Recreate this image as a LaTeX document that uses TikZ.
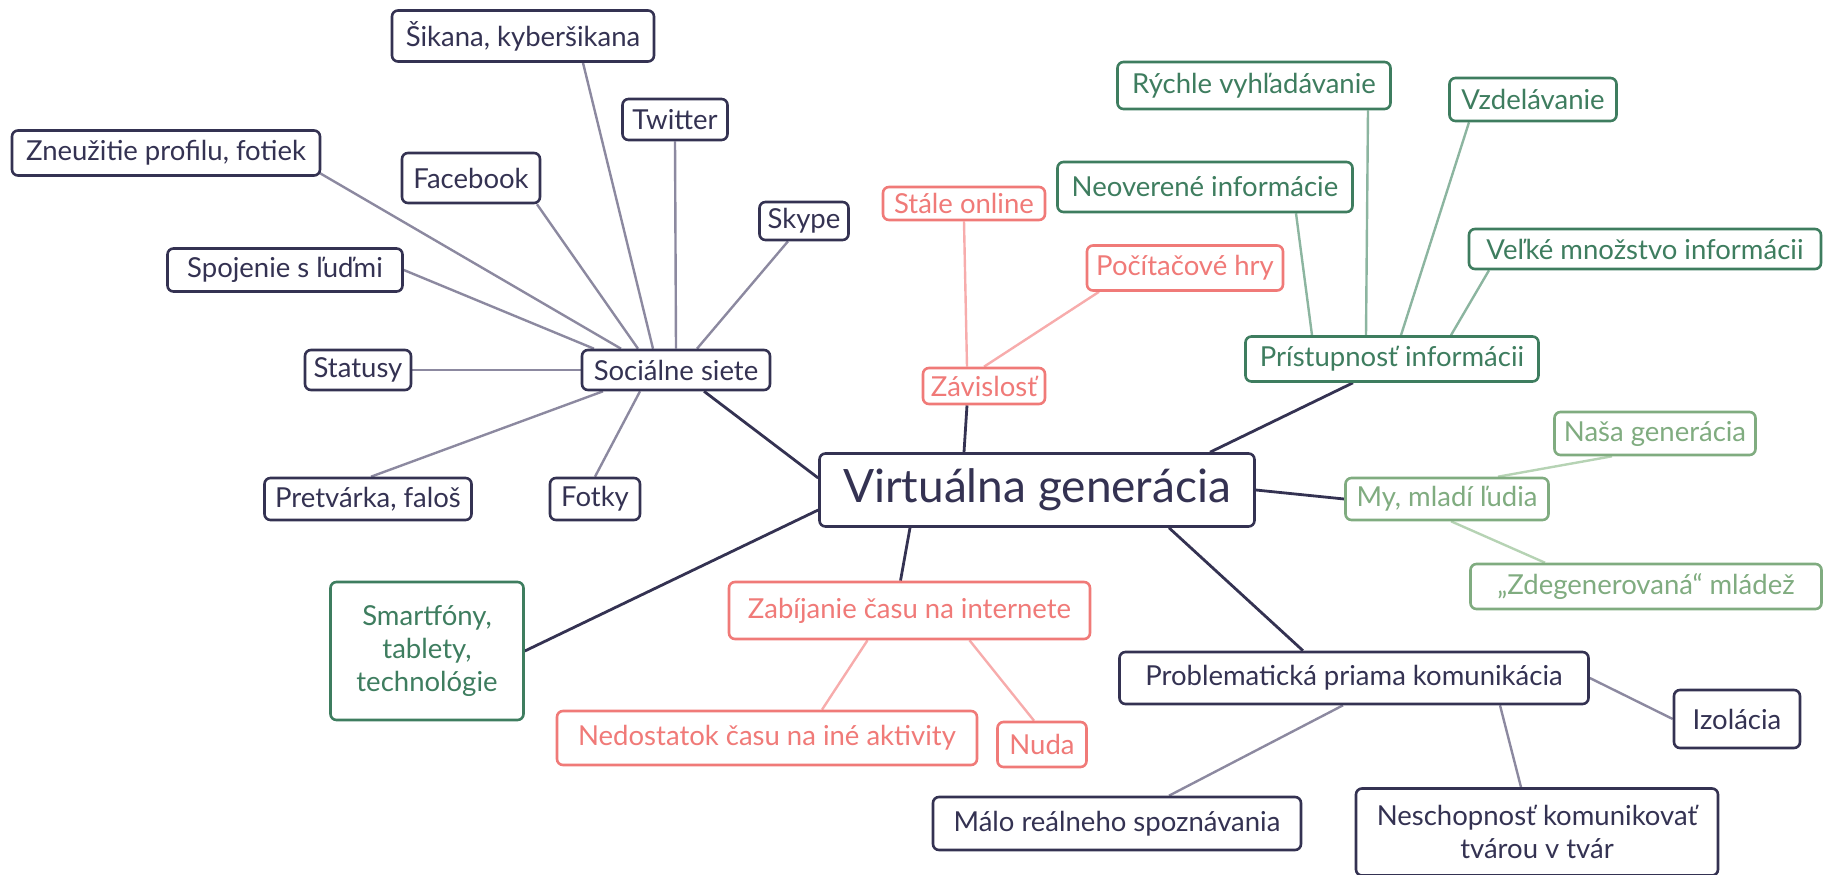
\documentclass[tikz,border=0pt]{standalone}
\usepackage{fontspec}
\setmainfont{Lato}
\usetikzlibrary{backgrounds}
\definecolor{navy}{RGB}{52,50,82}
\definecolor{navylight}{RGB}{140,137,160}
\definecolor{salmon}{RGB}{240,122,120}
\definecolor{salmonlight}{RGB}{247,172,172}
\definecolor{pine}{RGB}{62,125,95}
\definecolor{pinelight}{RGB}{140,181,160}
\definecolor{sage}{RGB}{128,172,128}
\definecolor{sagelight}{RGB}{182,211,180}

\begin{document}
\begin{tikzpicture}[x=1pt,y=-1pt,
	box/.style={draw,rounded corners=6pt,line width=2.6pt,fill=white,inner xsep=6pt,inner ysep=1pt,font=\fontsize{27.5}{33}\selectfont},
	navybox/.style={box,draw=navy,text=navy},
	salmonbox/.style={box,draw=salmon,text=salmon},
	pinebox/.style={box,draw=pine,text=pine},
	sagebox/.style={box,draw=sage,text=sage},
	main/.style={line width=2.8pt,draw=navy},
	twig/.style={line width=2.4pt}]
	\useasboundingbox (0,0) rectangle (1840,875);

	%centre
	\node[navybox,minimum width=435,minimum height=73,font=\fontsize{46}{52}\selectfont] (root) at (1037,490) {Virtuálna generácia};

	%social networks
	\node[navybox,minimum width=188,minimum height=40] (siete) at (676,370) {Sociálne siete};
	\node[navybox,minimum width=262,minimum height=51] (sikana) at (523,36) {Šikana, kyberšikana};
	\node[navybox,minimum width=105,minimum height=41] (twitter) at (675,119.5) {Twitter};
	\node[navybox,minimum width=308,minimum height=45] (zneuzitie) at (166,153) {Zneužitie profilu, fotiek};
	\node[navybox,minimum width=138,minimum height=50] (facebook) at (471,178) {Facebook};
	\node[navybox,minimum width=89,minimum height=38] (skype) at (804,221) {Skype};
	\node[navybox,minimum width=235,minimum height=43] (spojenie) at (285,270) {Spojenie s ľuďmi};
	\node[navybox,minimum width=106,minimum height=40] (statusy) at (358,370) {Statusy};
	\node[navybox,minimum width=207,minimum height=42] (pretvarka) at (368,499) {Pretvárka, faloš};
	\node[navybox,minimum width=90,minimum height=42] (fotky) at (595,499) {Fotky};

	%devices
	\node[pinebox,minimum width=193,minimum height=138,align=center] (smart) at (427,651) {Smartfóny,\\tablety,\\technológie};

	%time
	\node[salmonbox,minimum width=361,minimum height=57] (zabijanie) at (909.5,610.5) {Zabíjanie času na internete};
	\node[salmonbox,minimum width=420,minimum height=54] (nedostatok) at (767,738) {Nedostatok času na iné aktivity};
	\node[salmonbox,minimum width=89,minimum height=45] (nuda) at (1042,744.5) {Nuda};

	%addiction
	\node[salmonbox,minimum width=122,minimum height=36] (zavislost) at (984,386) {Závislosť};
	\node[salmonbox,minimum width=162,minimum height=33] (online) at (964,203.5) {Stále online};
	\node[salmonbox,minimum width=196,minimum height=45] (hry) at (1185,268) {Počítačové hry};

	%information
	\node[pinebox,minimum width=293,minimum height=45] (pristup) at (1392,359) {Prístupnosť informácii};
	\node[pinebox,minimum width=273,minimum height=47] (rychle) at (1254,85.5) {Rýchle vyhľadávanie};
	\node[pinebox,minimum width=167,minimum height=43] (vzdelavanie) at (1533,99.5) {Vzdelávanie};
	\node[pinebox,minimum width=295,minimum height=50] (neoverene) at (1205,187) {Neoverené informácie};
	\node[pinebox,minimum width=352,minimum height=40] (mnozstvo) at (1645,249) {Veľké množstvo informácii};

	%young people
	\node[sagebox,minimum width=203,minimum height=42] (mladi) at (1447,499) {My, mladí ľudia};
	\node[sagebox,minimum width=201,minimum height=43] (nasa) at (1655,433.5) {Naša generácia};
	\node[sagebox,minimum width=351,minimum height=45] (mladez) at (1646,586.5) {„Zdegenerovaná“ mládež};

	%communication
	\node[navybox,minimum width=469,minimum height=52] (priama) at (1354,678) {Problematická priama komunikácia};
	\node[navybox,minimum width=126,minimum height=58] (izolacia) at (1737,719) {Izolácia};
	\node[navybox,minimum width=368,minimum height=53] (malo) at (1117,823.5) {Málo reálneho spoznávania};
	\node[navybox,minimum width=362,minimum height=87,align=center] (neschop) at (1537,832) {Neschopnosť komunikovať\\tvárou v tvár};

	\begin{scope}[on background layer]
	%main branches
	\draw[main] ([xshift=28pt]siete.south) -- ([yshift=12pt]root.west);
	\draw[main] ([yshift=-20pt]root.west) -- (smart.east);
	\draw[main] ([xshift=-127pt]root.south) -- ([xshift=-9pt]zabijanie.north);
	\draw[main] ([xshift=-73pt]root.north) -- ([xshift=-17pt]zavislost.south);
	\draw[main] ([xshift=173pt]root.north) -- ([xshift=-39pt]pristup.south);
	\draw[main] (root.east) -- (mladi.west);
	\draw[main] ([xshift=132pt]root.south) -- ([xshift=-51pt]priama.north);

	%social network twigs
	\draw[twig,navylight] ([xshift=60pt]sikana.south) -- ([xshift=-23pt]siete.north);
	\draw[twig,navylight] (twitter.south) -- (siete.north);
	\draw[twig,navylight] ([xshift=-2pt,yshift=4pt]zneuzitie.south east) -- ([xshift=-55pt]siete.north);
	\draw[twig,navylight] ([xshift=66pt]facebook.south) -- ([xshift=-38pt]siete.north);
	\draw[twig,navylight] ([xshift=-16pt]skype.south) -- ([xshift=21pt]siete.north);
	\draw[twig,navylight] (spojenie.east) -- ([xshift=-82pt]siete.north);
	\draw[twig,navylight] (statusy.east) -- (siete.west);
	\draw[twig,navylight] ([xshift=3pt]pretvarka.north) -- ([xshift=-73pt]siete.south);
	\draw[twig,navylight] (fotky.north) -- ([xshift=-36pt]siete.south);

	%red twigs
	\draw[twig,salmonlight] (online.south) -- ([xshift=-17pt]zavislost.north);
	\draw[twig,salmonlight] ([xshift=-86pt]hry.south) -- (zavislost.north);
	\draw[twig,salmonlight] ([xshift=55pt]nedostatok.north) -- ([xshift=-42pt]zabijanie.south);
	\draw[twig,salmonlight] ([xshift=-8pt]nuda.north) -- ([xshift=60pt]zabijanie.south);

	%green twigs
	\draw[twig,pinelight] ([xshift=91pt]neoverene.south) -- ([xshift=-80pt]pristup.north);
	\draw[twig,pinelight] ([xshift=114pt]rychle.south) -- ([xshift=-26pt]pristup.north);
	\draw[twig,pinelight] ([xshift=-64pt]vzdelavanie.south) -- ([xshift=9pt]pristup.north);
	\draw[twig,pinelight] ([xshift=-156pt]mnozstvo.south) -- ([xshift=59pt]pristup.north);
	\draw[twig,sagelight] ([xshift=-43pt]nasa.south) -- ([xshift=51pt]mladi.north);
	\draw[twig,sagelight] ([xshift=-101pt]mladez.north) -- ([xshift=4pt]mladi.south);

	%communication twigs
	\draw[twig,navylight] (priama.east) -- (izolacia.west);
	\draw[twig,navylight] ([xshift=52pt]malo.north) -- ([xshift=-11pt]priama.south);
	\draw[twig,navylight] ([xshift=-16pt]neschop.north) -- ([xshift=146pt]priama.south);
	\end{scope}
\end{tikzpicture}
\end{document}
